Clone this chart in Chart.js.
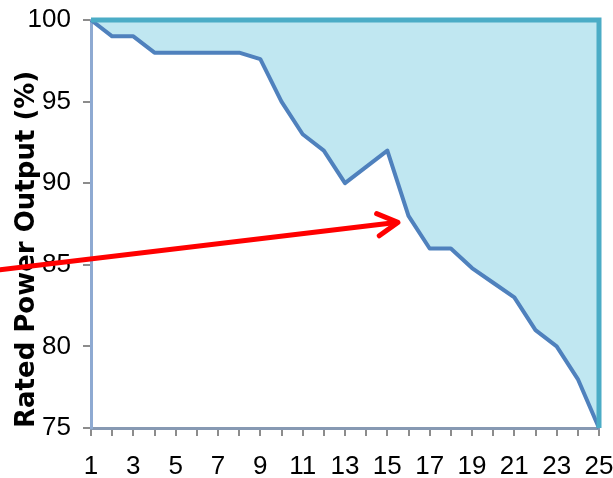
<!DOCTYPE html>
<html>
<head>
<meta charset="utf-8">
<script src="https://cdn.jsdelivr.net/npm/chart.js@4/dist/chart.umd.min.js"></script>
<style>
  html, body { margin: 0; padding: 0; background: #ffffff; }
  #wrap { width: 613px; height: 478px; }
</style>
</head>
<body>
<div id="wrap"><canvas id="c" width="613" height="478"></canvas></div>
<script>
// Years of service and the guaranteed share of rated power output
const years = [1, 2, 3, 4, 5, 6, 7, 8, 9, 10, 11, 12, 13, 14, 15, 16, 17, 18, 19, 20, 21, 22, 23, 24, 25];
const ratedOutput = [100, 99, 99, 98, 98, 98, 98, 98, 97.6, 95, 93, 92, 90, 91, 92, 88, 86, 86, 84.8, 83.9, 83, 81, 80, 78, 75];

// Upper boundary of the shaded band: 100 % across the years, then down the last year
const boundaryX = [1, 25, 25];
const boundaryY = [100, 100, 75];

// Axis ranges and tick steps
const yTicks = [75, 80, 85, 90, 95, 100];
const xTickLabelStep = 2;

// Red pointer, from / to in axis units
const arrowFrom = { x: -3.3, y: 84.7 };
const arrowTo = { x: 15.5, y: 87.6 };

const arrowPlugin = {
  id: 'pointerArrow',
  afterDraw(chart) {
    const xs = chart.scales.x, ys = chart.scales.y;
    const x0 = xs.getPixelForValue(arrowFrom.x), y0 = ys.getPixelForValue(arrowFrom.y);
    const x1 = xs.getPixelForValue(arrowTo.x), y1 = ys.getPixelForValue(arrowTo.y);
    const ang = Math.atan2(y1 - y0, x1 - x0);
    const head = 23, spread = Math.PI / 6.2;
    const ctx = chart.ctx;
    ctx.save();
    ctx.strokeStyle = '#ff0000';
    ctx.lineWidth = 5;
    ctx.lineCap = 'round';
    ctx.lineJoin = 'round';
    ctx.beginPath();
    ctx.moveTo(x0, y0);
    ctx.lineTo(x1 - 2 * Math.cos(ang), y1 - 2 * Math.sin(ang));
    ctx.stroke();
    ctx.beginPath();
    ctx.moveTo(x1 - head * Math.cos(ang - spread), y1 - head * Math.sin(ang - spread));
    ctx.lineTo(x1, y1);
    ctx.lineTo(x1 - head * Math.cos(ang + spread), y1 - head * Math.sin(ang + spread));
    ctx.stroke();
    ctx.restore();
  }
};

const tickFont = { family: '"Liberation Sans Narrow", "Liberation Sans", sans-serif', size: 26 };

new Chart(document.getElementById('c'), {
  type: 'line',
  data: {
    datasets: [
      {
        label: 'Rated output',
        data: years.map((yr, i) => ({ x: yr, y: ratedOutput[i] })),
        borderColor: '#4f81bd',
        borderWidth: 4,
        borderJoinStyle: 'round',
        backgroundColor: 'rgb(192,231,241)',
        fill: 'end',
        pointRadius: 0,
        tension: 0,
        clip: false,
        order: 2
      },
      {
        label: 'Boundary',
        data: boundaryX.map((bx, i) => ({ x: bx, y: boundaryY[i] })),
        borderColor: '#4bacc6',
        borderWidth: 5,
        borderJoinStyle: 'miter',
        fill: false,
        pointRadius: 0,
        tension: 0,
        clip: false,
        order: 1
      }
    ]
  },
  options: {
    responsive: false,
    animation: false,
    layout: { padding: { top: 20, right: 14, left: 0, bottom: 0 } },
    plugins: {
      legend: { display: false },
      tooltip: { enabled: false }
    },
    scales: {
      x: {
        type: 'linear',
        min: years[0],
        max: years[years.length - 1],
        afterFit(scale) {
          scale.height = 50;
          scale.paddingLeft = 0;
          scale.paddingRight = 0;
        },
        ticks: {
          stepSize: 1,
          autoSkip: false,
          maxRotation: 0,
          padding: 15,
          color: '#000000',
          font: tickFont,
          callback: (v) => ((v - years[0]) % xTickLabelStep === 0 ? String(v) : '')
        },
        grid: {
          drawOnChartArea: false,
          drawTicks: true,
          tickLength: 8,
          color: '#8c8c8c',
          lineWidth: 2
        },
        border: { display: true, color: '#8799b3', width: 3 }
      },
      y: {
        type: 'linear',
        min: yTicks[0],
        max: yTicks[yTicks.length - 1],
        afterFit(scale) {
          scale.width = 91;
          scale.paddingTop = 0;
          scale.paddingBottom = 0;
        },
        afterBuildTicks(scale) { scale.ticks = yTicks.map(v => ({ value: v })); },
        ticks: {
          padding: 12,
          color: '#000000',
          font: tickFont
        },
        grid: {
          drawOnChartArea: false,
          drawTicks: true,
          tickLength: 8,
          color: '#8c8c8c',
          lineWidth: 2
        },
        border: { display: true, color: '#8eaad2', width: 3 },
        title: {
          display: true,
          text: 'Rated Power Output (%)',
          align: 'start',
          color: '#000000',
          font: { family: '"DejaVu Sans", sans-serif', size: 26, weight: 'bold' },
          padding: { top: 12, bottom: 0 }
        }
      }
    }
  },
  plugins: [arrowPlugin]
});
</script>
</body>
</html>
